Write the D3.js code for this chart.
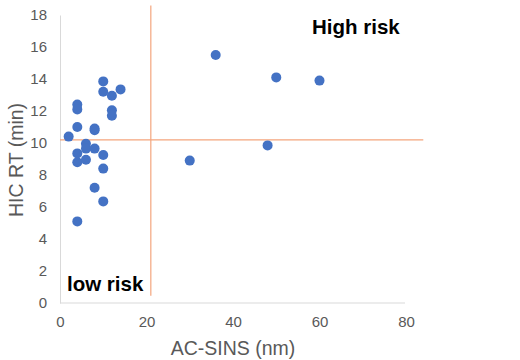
<!DOCTYPE html>
<html><head><meta charset="utf-8">
<script src="https://cdn.jsdelivr.net/npm/d3@7"></script>
<style>body{margin:0;background:#fff}svg{display:block}</style>
</head><body>
<svg id="c" width="520" height="360"></svg>
<script>
const acSins = [2,4,4,4,4,4,4,6,6,6,8,8,8,8,10,10,10,10,10,12,12,12,14,36,50,60,48,30];
const hicRt  = [10.4,11.0,12.4,12.1,9.35,8.8,5.1,9.95,9.65,8.95,10.9,10.8,9.65,7.2,13.85,13.2,9.25,8.4,6.35,12.95,12.05,11.7,13.35,15.5,14.1,13.9,9.85,8.9];
const xTicks = [0,20,40,60,80];
const yTicks = [0,2,4,6,8,10,12,14,16,18];
const thresholdX = 21, thresholdY = 10.2;
const vLineSpan = [0.45, 18.6];
const hLineSpan = [0, 84];

const svg = d3.select("#c");
const x = d3.scaleLinear().domain([0,80]).range([60,406]);
const y = d3.scaleLinear().domain([0,18]).range([303,15]);
const grey = "#595959";

const xAxis = svg.append("g").attr("transform","translate(0,303)")
  .call(d3.axisBottom(x).tickValues(xTicks).tickSize(0).tickPadding(13));
xAxis.select(".domain").attr("stroke","#d9d9d9").attr("d","M60,0H405");
xAxis.selectAll("text").attr("fill",grey).style("font","15px 'Liberation Sans',Arial,sans-serif");

const yAxis = svg.append("g").attr("transform","translate(60,0)")
  .call(d3.axisLeft(y).tickValues(yTicks).tickSize(0).tickPadding(13));
yAxis.select(".domain").attr("stroke","#d9d9d9");
yAxis.selectAll("text").attr("fill",grey).style("font","15px 'Liberation Sans',Arial,sans-serif");

// threshold lines
svg.append("line").attr("x1",x(thresholdX)).attr("x2",x(thresholdX))
  .attr("y1",y(vLineSpan[1])).attr("y2",y(vLineSpan[0]))
  .attr("stroke","#f4a57d").attr("stroke-width",1.2);
svg.append("line").attr("x1",x(hLineSpan[0])).attr("x2",x(hLineSpan[1]))
  .attr("y1",y(thresholdY)).attr("y2",y(thresholdY))
  .attr("stroke","#f4a57d").attr("stroke-width",1.2);

svg.append("g").selectAll("circle").data(acSins.map((v,i)=>[v,hicRt[i]]))
  .join("circle").attr("cx",d=>x(d[0])).attr("cy",d=>y(d[1])).attr("r",5)
  .attr("fill","#4472c4");

svg.append("text").attr("x",312).attr("y",34).text("High risk")
  .style("font","bold 20.5px 'Liberation Sans',Arial,sans-serif").attr("fill","#000");
svg.append("text").attr("x",67).attr("y",291).text("low risk")
  .style("font","bold 20.5px 'Liberation Sans',Arial,sans-serif").attr("fill","#000");

svg.append("text").attr("x",233).attr("y",355).attr("text-anchor","middle")
  .text("AC-SINS (nm)").attr("fill",grey).style("font","19.5px 'Liberation Sans',Arial,sans-serif");
svg.append("text").attr("transform","translate(23,160) rotate(-90)").attr("text-anchor","middle")
  .text("HIC RT (min)").attr("fill",grey).style("font","19.5px 'Liberation Sans',Arial,sans-serif");
</script>
</body></html>
